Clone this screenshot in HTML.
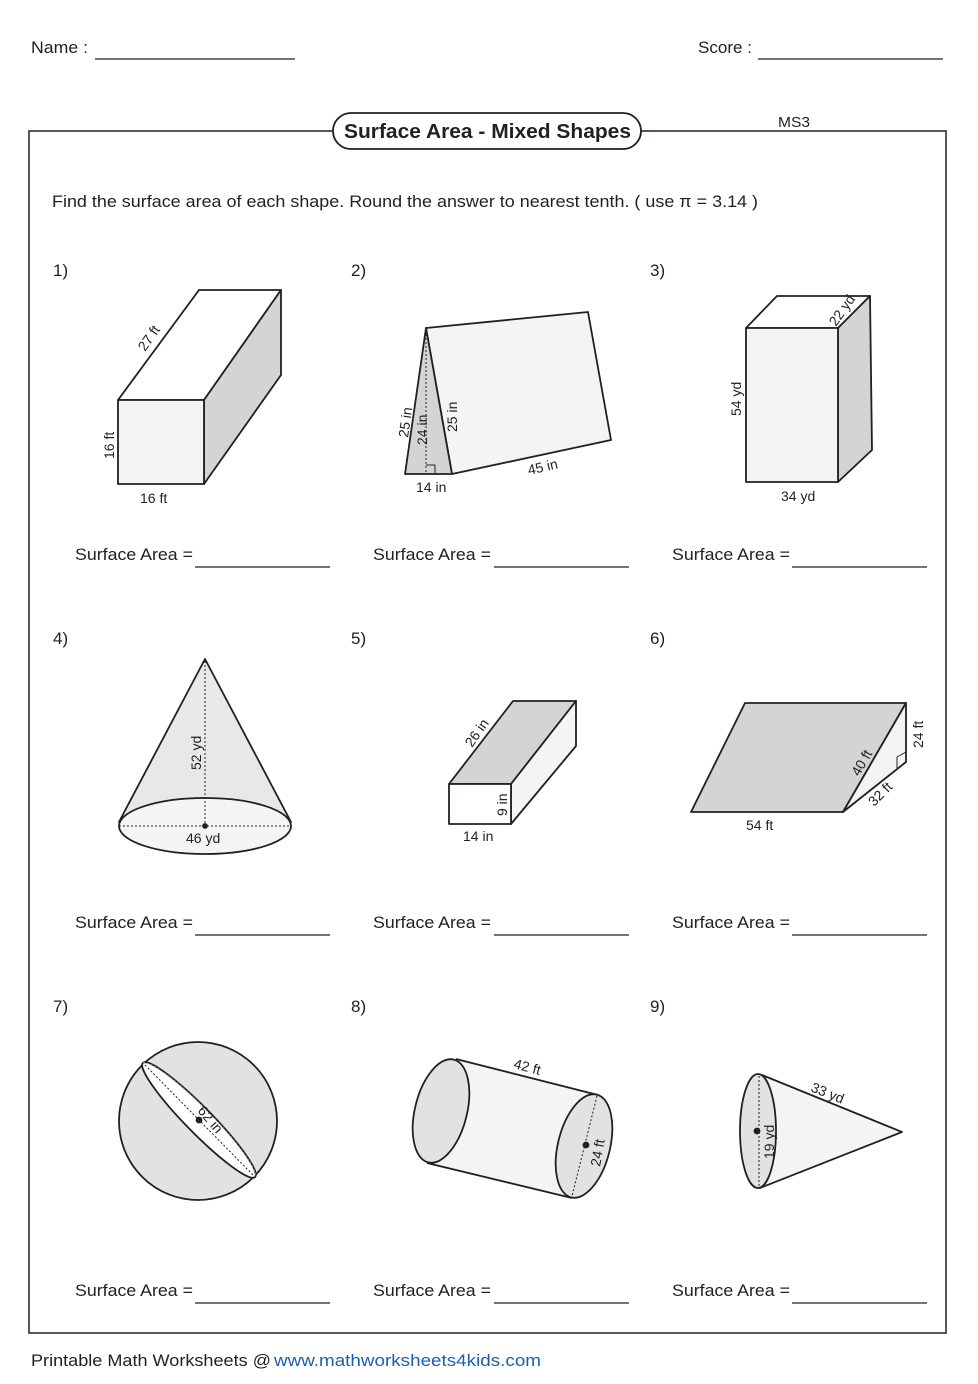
<!DOCTYPE html>
<html><head><meta charset="utf-8"><style>
html,body{margin:0;padding:0;background:#fff}
svg{display:block}
text{font-family:"Liberation Sans",sans-serif;fill:#231f20}
</style></head><body>
<svg width="978" height="1384" viewBox="0 0 978 1384" xmlns="http://www.w3.org/2000/svg">
<g font-size="17">
<text x="31" y="53" textLength="57" lengthAdjust="spacingAndGlyphs">Name :</text>
<line x1="95" y1="59" x2="295" y2="59" stroke="#231f20" stroke-width="1.3"/>
<text x="698" y="53" textLength="54" lengthAdjust="spacingAndGlyphs">Score :</text>
<line x1="758" y1="59" x2="943" y2="59" stroke="#231f20" stroke-width="1.3"/>
</g>
<rect x="29" y="131" width="917" height="1202" fill="none" stroke="#231f20" stroke-width="1.5"/>
<rect x="333" y="113" width="308" height="36" rx="18" fill="#fff" stroke="#231f20" stroke-width="1.8"/>
<text x="344" y="138" font-size="20" font-weight="bold" textLength="287" lengthAdjust="spacingAndGlyphs">Surface Area - Mixed Shapes</text>
<text x="778" y="127" font-size="15" textLength="32" lengthAdjust="spacingAndGlyphs">MS3</text>
<text x="52" y="207" font-size="17" textLength="706" lengthAdjust="spacingAndGlyphs">Find the surface area of each shape. Round the answer to nearest tenth. ( use π = 3.14 )</text>

<g font-size="17">
<text x="53" y="276">1)</text><text x="351" y="276">2)</text><text x="650" y="276">3)</text>
<text x="53" y="644">4)</text><text x="351" y="644">5)</text><text x="650" y="644">6)</text>
<text x="53" y="1012">7)</text><text x="351" y="1012">8)</text><text x="650" y="1012">9)</text>
</g>
<g font-size="17" stroke="#231f20" stroke-width="1.3">
<text x="75" y="560" stroke="none" textLength="118" lengthAdjust="spacingAndGlyphs">Surface Area =</text><line x1="195" y1="567" x2="330" y2="567"/>
<text x="373" y="560" stroke="none" textLength="118" lengthAdjust="spacingAndGlyphs">Surface Area =</text><line x1="494" y1="567" x2="629" y2="567"/>
<text x="672" y="560" stroke="none" textLength="118" lengthAdjust="spacingAndGlyphs">Surface Area =</text><line x1="792" y1="567" x2="927" y2="567"/>
<text x="75" y="928" stroke="none" textLength="118" lengthAdjust="spacingAndGlyphs">Surface Area =</text><line x1="195" y1="935" x2="330" y2="935"/>
<text x="373" y="928" stroke="none" textLength="118" lengthAdjust="spacingAndGlyphs">Surface Area =</text><line x1="494" y1="935" x2="629" y2="935"/>
<text x="672" y="928" stroke="none" textLength="118" lengthAdjust="spacingAndGlyphs">Surface Area =</text><line x1="792" y1="935" x2="927" y2="935"/>
<text x="75" y="1296" stroke="none" textLength="118" lengthAdjust="spacingAndGlyphs">Surface Area =</text><line x1="195" y1="1303" x2="330" y2="1303"/>
<text x="373" y="1296" stroke="none" textLength="118" lengthAdjust="spacingAndGlyphs">Surface Area =</text><line x1="494" y1="1303" x2="629" y2="1303"/>
<text x="672" y="1296" stroke="none" textLength="118" lengthAdjust="spacingAndGlyphs">Surface Area =</text><line x1="792" y1="1303" x2="927" y2="1303"/>
</g>

<g stroke="#231f20" stroke-width="1.8" stroke-linejoin="round">
<!-- 1 -->
<polygon points="118,400 199,290 281,290 204,400" fill="#fff"/>
<polygon points="204,400 281,290 281,375 204,484" fill="#d4d4d6"/>
<rect x="118" y="400" width="86" height="84" fill="#f4f4f5"/>
<!-- 2 -->
<polygon points="426,328 588,312 611,440 452,474" fill="#f4f4f5"/>
<polygon points="426,328 405,474 452,474" fill="#d4d4d6"/>
<line x1="426" y1="330" x2="426" y2="474" stroke-width="1" stroke-dasharray="2,2"/>
<polyline points="426,465 435,465 435,474" fill="none" stroke-width="1"/>
<!-- 3 -->
<polygon points="746,328 777,296 870,296 838,328" fill="#fff"/>
<polygon points="838,328 870,296 872,450 838,482" fill="#d4d4d6"/>
<rect x="746" y="328" width="92" height="154" fill="#f4f4f5"/>
<!-- 4 -->
<polygon points="205,659 119,822 291,822" fill="#e8e8ea"/>
<ellipse cx="205" cy="826" rx="86" ry="28" fill="#f4f4f5"/>
<line x1="205" y1="661" x2="205" y2="826" stroke-width="1" stroke-dasharray="2,2"/>
<line x1="119" y1="826" x2="291" y2="826" stroke-width="1" stroke-dasharray="2,2"/>
<circle cx="205" cy="826" r="2" fill="#231f20"/>
<!-- 5 -->
<polygon points="449,784 513,701 576,701 511,784" fill="#d4d4d6"/>
<polygon points="511,784 576,701 576,746 511,824" fill="#f4f4f5"/>
<rect x="449" y="784" width="62" height="40" fill="#fff"/>
<!-- 6 -->
<polygon points="691,812 745,703 906,703 843,812" fill="#d4d4d6"/>
<polygon points="843,812 906,703 906,762" fill="#f4f4f5"/>
<polyline points="897,768 897,757 906,752" fill="none" stroke-width="1"/>
<!-- 7 -->
<circle cx="198" cy="1121" r="79" fill="#e2e2e4"/>
<ellipse cx="199" cy="1120" rx="80" ry="13" transform="rotate(45.5 199 1120)" fill="#fff"/>
<path d="M143,1063 A80,13 45.5 0 1 255,1177" fill="none" stroke="#888" stroke-width="1" stroke-dasharray="2,2"/>
<line x1="145" y1="1065" x2="253" y2="1175" stroke-width="1" stroke-dasharray="2,2"/>
<circle cx="199" cy="1120" r="2.5" fill="#231f20"/>
<!-- 8 -->
<polygon points="456,1059 598,1095 572,1198 427,1163" fill="#f4f4f5" stroke="none"/>
<line x1="456" y1="1059" x2="598" y2="1095"/>
<line x1="427" y1="1163" x2="572" y2="1198"/>
<ellipse cx="441" cy="1111" rx="26" ry="53" transform="rotate(14 441 1111)" fill="#e2e2e4"/>
<ellipse cx="584" cy="1146" rx="26" ry="53" transform="rotate(14 584 1146)" fill="#e2e2e4"/>
<line x1="597" y1="1096" x2="572" y2="1196" stroke-width="1" stroke-dasharray="2,2"/>
<circle cx="586" cy="1145" r="2.5" fill="#231f20"/>
<!-- 9 -->
<polygon points="762,1075 902,1132 760,1188" fill="#f4f4f5"/>
<ellipse cx="758" cy="1131" rx="18" ry="57" fill="#e2e2e4"/>
<line x1="759" y1="1076" x2="759" y2="1186" stroke-width="1" stroke-dasharray="2,2"/>
<circle cx="757" cy="1131" r="2.5" fill="#231f20"/>
</g>

<g font-size="14">
<text x="0" y="0" transform="translate(145,352) rotate(-55)">27 ft</text>
<text x="0" y="0" transform="translate(114,459) rotate(-90)">16 ft</text>
<text x="140" y="503">16 ft</text>
<text x="0" y="0" transform="translate(408,438) rotate(-82)">25 in</text>
<text x="0" y="0" transform="translate(427,445) rotate(-90)">24 in</text>
<text x="0" y="0" transform="translate(457,432) rotate(-90)">25 in</text>
<text x="416" y="492">14 in</text>
<text x="0" y="0" transform="translate(529,475) rotate(-13)">45 in</text>
<text x="0" y="0" transform="translate(836,327) rotate(-55)">22 yd</text>
<text x="0" y="0" transform="translate(741,416) rotate(-90)">54 yd</text>
<text x="781" y="501">34 yd</text>
<text x="0" y="0" transform="translate(201,770) rotate(-90)">52 yd</text>
<text x="186" y="843">46 yd</text>
<text x="0" y="0" transform="translate(472,748) rotate(-55)">26 in</text>
<text x="0" y="0" transform="translate(507,816) rotate(-90)">9 in</text>
<text x="463" y="841">14 in</text>
<text x="0" y="0" transform="translate(859,777) rotate(-60)">40 ft</text>
<text x="0" y="0" transform="translate(923,748) rotate(-90)">24 ft</text>
<text x="0" y="0" transform="translate(874,807) rotate(-45)">32 ft</text>
<text x="746" y="830">54 ft</text>
<text x="0" y="0" transform="translate(197,1111) rotate(50)">62 in</text>
<text x="0" y="0" transform="translate(513,1068) rotate(15)">42 ft</text>
<text x="0" y="0" transform="translate(600,1167) rotate(-80)">24 ft</text>
<text x="0" y="0" transform="translate(810,1091) rotate(22)">33 yd</text>
<text x="0" y="0" transform="translate(774,1159) rotate(-90)">19 yd</text>
</g>

<text x="31" y="1366" font-size="17" textLength="240" lengthAdjust="spacingAndGlyphs">Printable Math Worksheets @</text>
<text x="274" y="1366" font-size="17" style="fill:#1b5fae" textLength="267" lengthAdjust="spacingAndGlyphs">www.mathworksheets4kids.com</text>
</svg>
</body></html>
